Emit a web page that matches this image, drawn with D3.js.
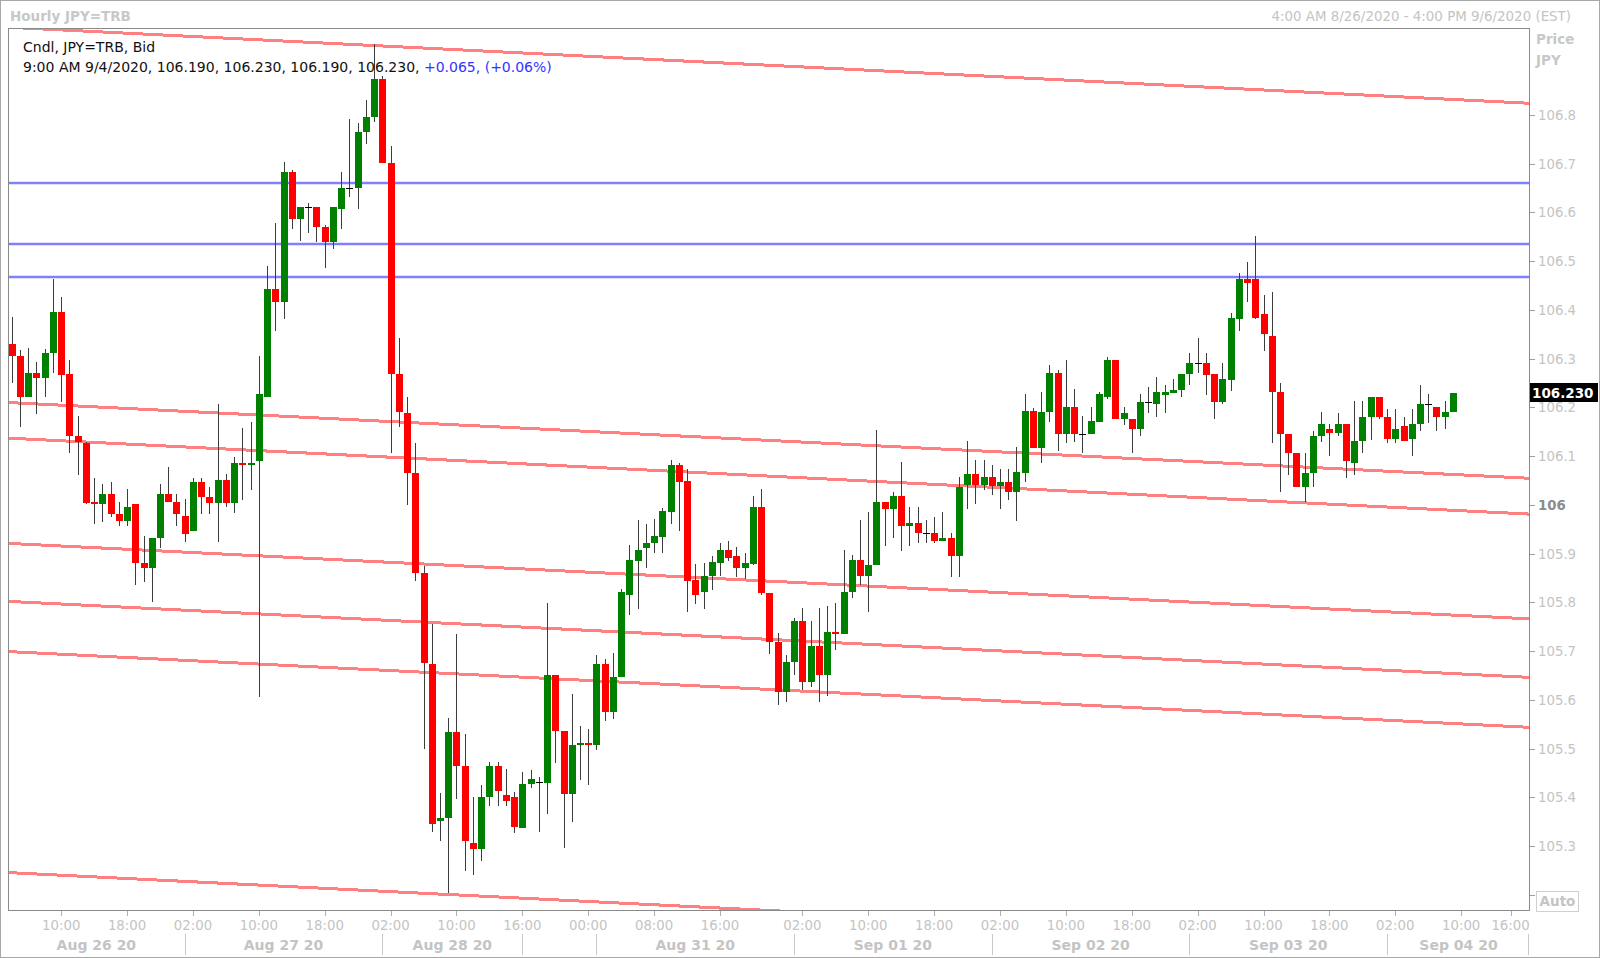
<!DOCTYPE html>
<html><head><meta charset="utf-8">
<script src="https://cdn.jsdelivr.net/npm/d3@7"></script>
<style>html,body{margin:0;padding:0;background:#fff;} svg{display:block;}</style>
</head><body>
<svg id="c" width="1600" height="958"></svg>
<script>
// ---- data (hourly candles, index 0 = 4:00 AM 8/26/2020 EST) ----
const opens = [106.331,106.306,106.222,106.271,106.261,106.312,106.396,106.268,106.142,106.126,
106.006,106.001,106.022,105.982,105.967,106.002,105.881,105.871,105.931,106.022,
106.006,105.977,105.947,106.047,106.017,106.004,106.051,106.004,106.086,106.081,
106.091,106.222,106.442,106.416,106.683,106.587,106.612,106.612,106.571,106.539,
106.607,106.651,106.651,106.766,106.796,106.874,106.701,106.268,106.188,106.065,
105.860,105.674,105.351,105.357,105.533,105.465,105.306,105.294,105.400,105.465,
105.405,105.400,105.336,105.427,105.432,105.430,105.651,105.536,105.406,105.507,
105.511,105.507,105.673,105.576,105.646,105.816,105.885,105.911,105.921,105.935,
105.986,106.082,106.048,105.846,105.821,105.855,105.880,105.907,105.896,105.870,
105.878,105.996,105.820,105.718,105.617,105.677,105.762,105.637,105.711,105.651,
105.740,105.736,105.821,105.887,105.855,105.877,106.005,105.992,106.018,105.957,
105.962,105.942,105.942,105.925,105.931,105.896,106.041,106.063,106.040,106.058,
106.039,106.047,106.027,106.066,106.193,106.116,106.191,106.271,106.145,106.201,
106.146,106.145,106.171,106.222,106.297,106.176,106.177,106.156,106.212,106.207,
106.225,106.230,106.236,106.268,106.292,106.292,106.268,106.212,106.256,106.381,
106.463,106.463,106.392,106.347,106.232,106.146,106.107,106.036,106.066,106.142,
106.156,106.147,106.166,106.085,106.131,106.181,106.222,106.181,106.135,106.162,
106.135,106.166,106.206,106.200,106.181,106.190];
const highs = [106.386,106.318,106.322,106.293,106.320,106.463,106.427,106.297,106.182,106.129,
106.056,106.042,106.047,106.006,106.032,106.002,105.936,105.931,106.042,106.077,
106.022,106.012,106.056,106.056,106.037,106.207,106.063,106.099,106.157,106.171,
106.306,106.490,106.578,106.703,106.687,106.612,106.619,106.612,106.575,106.612,
106.683,106.792,106.783,106.830,106.946,106.880,106.737,106.342,106.222,106.126,
105.875,105.756,105.408,105.562,105.736,105.530,105.400,105.425,105.473,105.473,
105.459,105.411,105.452,105.456,105.442,105.798,105.651,105.536,105.612,105.546,
105.541,105.692,105.683,105.697,105.827,105.918,105.968,105.961,105.971,105.993,
106.092,106.085,106.073,105.878,105.881,105.895,105.922,105.926,105.913,105.902,
106.018,106.032,105.820,105.738,105.692,105.767,105.788,105.762,105.788,105.793,
105.798,105.907,105.897,105.968,105.986,106.154,106.005,106.027,106.087,105.996,
105.996,105.968,105.976,105.986,105.943,106.058,106.131,106.092,106.092,106.082,
106.073,106.073,106.118,106.228,106.198,106.232,106.287,106.277,106.297,106.237,
106.182,106.201,106.232,106.304,106.297,106.201,106.177,106.227,106.242,106.262,
106.246,106.258,106.268,106.312,106.342,106.312,106.268,106.292,106.393,106.476,
106.498,106.552,106.431,106.437,106.251,106.146,106.107,106.106,106.152,106.191,
106.166,106.188,106.166,106.213,106.213,106.222,106.222,106.196,106.196,106.181,
106.196,106.245,106.227,106.200,106.213,106.230];
const lows = [106.251,106.160,106.221,106.186,106.222,106.271,106.212,106.106,106.061,106.002,
105.960,105.965,105.976,105.956,105.956,105.835,105.841,105.800,105.911,106.006,
105.956,105.924,105.947,105.981,105.981,105.924,105.995,105.984,106.010,106.030,
105.606,106.222,106.356,106.382,106.566,106.541,106.557,106.539,106.487,106.525,
106.566,106.632,106.607,106.741,106.786,106.701,106.106,106.160,106.000,105.844,
105.499,105.329,105.311,105.203,105.397,105.249,105.241,105.269,105.382,105.382,
105.382,105.326,105.336,105.420,105.329,105.366,105.471,105.295,105.350,105.435,
105.426,105.496,105.557,105.560,105.646,105.775,105.786,105.871,105.902,105.902,
105.960,105.947,105.781,105.796,105.786,105.825,105.854,105.885,105.851,105.848,
105.876,105.816,105.695,105.589,105.595,105.651,105.620,105.626,105.596,105.607,
105.702,105.735,105.808,105.836,105.781,105.877,105.916,105.931,105.906,105.916,
105.921,105.921,105.921,105.925,105.851,105.851,105.991,106.001,106.030,106.020,
105.991,106.010,105.966,106.046,106.117,106.085,106.171,106.111,106.126,106.130,
106.107,106.145,106.171,106.217,106.177,106.164,106.107,106.141,106.189,106.181,
106.189,106.230,106.222,106.245,106.270,106.225,106.176,106.206,106.234,106.357,
106.417,106.381,106.316,106.126,106.027,106.061,106.036,106.006,106.036,106.130,
106.100,106.142,106.056,106.061,106.107,106.134,106.176,106.126,106.126,106.131,
106.100,106.152,106.167,106.152,106.155,106.190];
const closes = [106.305,106.222,106.271,106.261,106.312,106.396,106.266,106.142,106.129,106.004,
106.002,106.022,105.982,105.967,105.996,105.880,105.871,105.931,106.022,106.006,
105.981,105.941,106.047,106.017,106.004,106.051,106.004,106.086,106.081,106.086,
106.227,106.442,106.416,106.683,106.587,106.612,106.612,106.571,106.539,106.612,
106.651,106.651,106.766,106.796,106.874,106.701,106.268,106.191,106.065,105.860,
105.676,105.346,105.357,105.533,105.465,105.311,105.294,105.400,105.465,105.412,
105.393,105.340,105.427,105.437,105.432,105.651,105.535,105.406,105.507,105.511,
105.507,105.673,105.576,105.647,105.822,105.887,105.907,105.922,105.936,105.987,
106.082,106.046,105.844,105.816,105.855,105.882,105.907,105.890,105.871,105.881,
105.996,105.820,105.718,105.615,105.677,105.762,105.637,105.711,105.651,105.740,
105.736,105.821,105.887,105.855,105.877,106.005,105.992,106.018,105.957,105.962,
105.942,105.942,105.925,105.931,105.896,106.036,106.063,106.040,106.058,106.039,
106.047,106.027,106.067,106.193,106.117,106.191,106.271,106.145,106.201,106.145,
106.146,106.172,106.227,106.297,106.177,106.188,106.156,106.212,106.212,106.232,
106.232,106.236,106.268,106.292,106.292,106.266,106.212,106.258,106.383,106.463,
106.456,106.384,106.350,106.231,106.145,106.107,106.036,106.066,106.142,106.166,
106.147,106.166,106.091,106.131,106.181,106.222,106.180,106.135,106.156,106.131,
106.166,106.206,106.206,106.181,106.191,106.230];

const timeTickIdx = [6,14,22,30,38,46,54,62,70,78,86,96,104,112,120,128,136,144,152,160,168,176,182];
const timeTickLabels = ["10:00","18:00","02:00","10:00","18:00","02:00","10:00","16:00","00:00","08:00","16:00",
  "02:00","10:00","18:00","02:00","10:00","18:00","02:00","10:00","18:00","02:00","10:00","16:00"];
const daySepIdx = [21,45,62,71,95,119,143,167];
const dayLabels = ["Aug 26 20","Aug 27 20","Aug 28 20","","Aug 31 20","Sep 01 20","Sep 02 20","Sep 03 20","Sep 04 20"];
const priceTicks = [105.2,105.3,105.4,105.5,105.6,105.7,105.8,105.9,106.0,106.1,106.2,106.3,106.4,106.5,106.6,106.7,106.8];
const priceTickLabels = ["","105.3","105.4","105.5","105.6","105.7","105.8","105.9","106","106.1","106.2","106.3","106.4","106.5","106.6","106.7","106.8"];
const resistanceLevels = [106.661,106.536,106.468];
const trendStartPrice = [106.980,106.210,106.137,105.921,105.802,105.699,105.2455];
const trendEndPrice   = [106.824,106.0545,105.981,105.766,105.646,105.5435,105.090];
const lastPrice = 106.230;

// ---- layout ----
const L = 8, R = 1530, T = 28, B = 910;
const idxMin = -0.46, idxMax = 184.36;
const x = d3.scaleLinear().domain([idxMin, idxMax]).range([L, R]);
const y = d3.scaleLinear().domain([105.1687, 106.9785]).range([B, T]);

const svg = d3.select("#c");
const FONT = "'DejaVu Sans', Verdana, sans-serif";
const LG = "#c4c4c4";

// outer frame
svg.append("rect").attr("x",0.5).attr("y",0.5).attr("width",1599).attr("height",957)
  .attr("fill","#fff").attr("stroke","#a8a8a8");

// headers
svg.append("text").attr("x",10).attr("y",21).attr("font-family",FONT).attr("font-weight","bold")
  .attr("font-size",13.5).attr("fill","#c8c8c8").text("Hourly JPY=TRB");
svg.append("text").attr("x",1571).attr("y",21).attr("text-anchor","end").attr("font-family",FONT)
  .attr("font-size",13.4).attr("fill",LG).text("4:00 AM 8/26/2020 - 4:00 PM 9/6/2020 (EST)");
svg.append("text").attr("x",1536).attr("y",44).attr("font-family",FONT).attr("font-weight","bold")
  .attr("font-size",13.5).attr("fill","#c8c8c8").text("Price");
svg.append("text").attr("x",1536).attr("y",65).attr("font-family",FONT).attr("font-weight","bold")
  .attr("font-size",13.5).attr("fill","#c8c8c8").text("JPY");

// clip
svg.append("clipPath").attr("id","pc").append("rect").attr("x",L).attr("y",T).attr("width",R-L).attr("height",B-T);
const g = svg.append("g").attr("clip-path","url(#pc)");

// trend lines (red)
g.selectAll("line.tr").data(trendStartPrice).join("line").attr("class","tr")
  .attr("x1",x(idxMin)).attr("x2",x(idxMax))
  .attr("y1",d=>y(d)).attr("y2",(d,i)=>y(trendEndPrice[i]))
  .attr("stroke","#ff8080").attr("stroke-width",3).attr("shape-rendering","crispEdges");

// horizontal resistance (blue)
g.selectAll("line.hl").data(resistanceLevels).join("line").attr("class","hl")
  .attr("x1",L).attr("x2",R).attr("y1",d=>Math.round(y(d))).attr("y2",d=>Math.round(y(d)))
  .attr("stroke","#8080ff").attr("stroke-width",2.5);

// candles
const bars = d3.range(opens.length);
const cg = g.append("g").attr("shape-rendering","crispEdges");
cg.selectAll("line.w").data(bars).join("line").attr("class","w")
  .attr("x1",i=>Math.round(x(i))+0.5).attr("x2",i=>Math.round(x(i))+0.5)
  .attr("y1",i=>y(highs[i])).attr("y2",i=>y(lows[i]))
  .attr("stroke","#3c3c3c").attr("stroke-width",1);
cg.selectAll("rect.b").data(bars.filter(i=>opens[i]!==closes[i])).join("rect").attr("class","b")
  .attr("x",i=>Math.round(x(i))-3).attr("width",7)
  .attr("y",i=>y(Math.max(opens[i],closes[i])))
  .attr("height",i=>Math.max(1,Math.abs(y(opens[i])-y(closes[i]))))
  .attr("fill",i=>closes[i]>opens[i]?"#008000":"#ff0000");
cg.selectAll("line.d").data(bars.filter(i=>opens[i]===closes[i])).join("line").attr("class","d")
  .attr("x1",i=>Math.round(x(i))-3).attr("x2",i=>Math.round(x(i))+4)
  .attr("y1",i=>Math.round(y(opens[i]))+0.5).attr("y2",i=>Math.round(y(opens[i]))+0.5)
  .attr("stroke","#000").attr("stroke-width",1);

// plot frame
svg.append("rect").attr("x",L+0.5).attr("y",T+0.5).attr("width",R-L-1).attr("height",B-T)
  .attr("fill","none").attr("stroke","#8a8a8a");

// legend
const lg = svg.append("g").attr("font-family",FONT).attr("font-size",14);
lg.append("text").attr("x",23).attr("y",52).attr("fill","#111").text("Cndl, JPY=TRB, Bid");
const t2 = lg.append("text").attr("x",23).attr("y",72).attr("fill","#111");
t2.append("tspan").text("9:00 AM 9/4/2020, 106.190, 106.230, 106.190, 106.230, ");
t2.append("tspan").attr("fill","#3333ff").text("+0.065, (+0.06%)");

// right axis
const ya = svg.append("g");
ya.selectAll("line").data(priceTicks).join("line")
  .attr("x1",R).attr("x2",R+5).attr("y1",d=>Math.round(y(d))+0.5).attr("y2",d=>Math.round(y(d))+0.5)
  .attr("stroke","#a0a0a0");
ya.selectAll("text").data(priceTicks).join("text")
  .attr("x",1538).attr("y",d=>y(d)+5)
  .attr("font-family",FONT).attr("font-size",13.3)
  .attr("font-weight",(d,i)=>priceTickLabels[i]==="106"?"bold":"normal")
  .attr("fill",(d,i)=>priceTickLabels[i]==="106"?"#8c8c8c":LG)
  .text((d,i)=>priceTickLabels[i]);

// last price tag
svg.append("rect").attr("x",R).attr("y",Math.round(y(lastPrice))-10).attr("width",68).attr("height",19).attr("fill","#000");
svg.append("text").attr("x",R+2).attr("y",y(lastPrice)+5).attr("font-family",FONT).attr("font-weight","bold")
  .attr("font-size",13.5).attr("fill","#fff").text(lastPrice.toFixed(3));

// Auto box
svg.append("rect").attr("x",1536.5).attr("y",891.5).attr("width",42).attr("height",20).attr("fill","#fff").attr("stroke","#d0d0d0");
svg.append("text").attr("x",1557.5).attr("y",906).attr("text-anchor","middle").attr("font-family",FONT)
  .attr("font-weight","bold").attr("font-size",13.5).attr("fill",LG).text("Auto");

// bottom axis
const xa = svg.append("g");
xa.selectAll("line.tk").data(timeTickIdx).join("line").attr("class","tk")
  .attr("x1",i=>Math.round(x(i))+0.5).attr("x2",i=>Math.round(x(i))+0.5).attr("y1",911).attr("y2",916)
  .attr("stroke","#b0b0b0");
xa.selectAll("text.tl").data(timeTickIdx).join("text").attr("class","tl")
  .attr("x",i=>x(i)).attr("y",930).attr("text-anchor","middle")
  .attr("font-family",FONT).attr("font-size",13.3).attr("fill",LG)
  .text((d,i)=>timeTickLabels[i]);
const seps = daySepIdx.concat([idxMax-0.3]);
xa.selectAll("line.sep").data(seps).join("line").attr("class","sep")
  .attr("x1",i=>Math.round(x(i))+0.5).attr("x2",i=>Math.round(x(i))+0.5).attr("y1",934).attr("y2",955)
  .attr("stroke","#c8c8c8");
const bounds = [idxMin].concat(daySepIdx).concat([idxMax]);
xa.selectAll("text.dl").data(dayLabels).join("text").attr("class","dl")
  .attr("x",(d,i)=>(x(bounds[i])+x(bounds[i+1]))/2).attr("y",950).attr("text-anchor","middle")
  .attr("font-family",FONT).attr("font-weight","bold").attr("font-size",14).attr("fill",LG)
  .text(d=>d);
</script>
</body></html>
